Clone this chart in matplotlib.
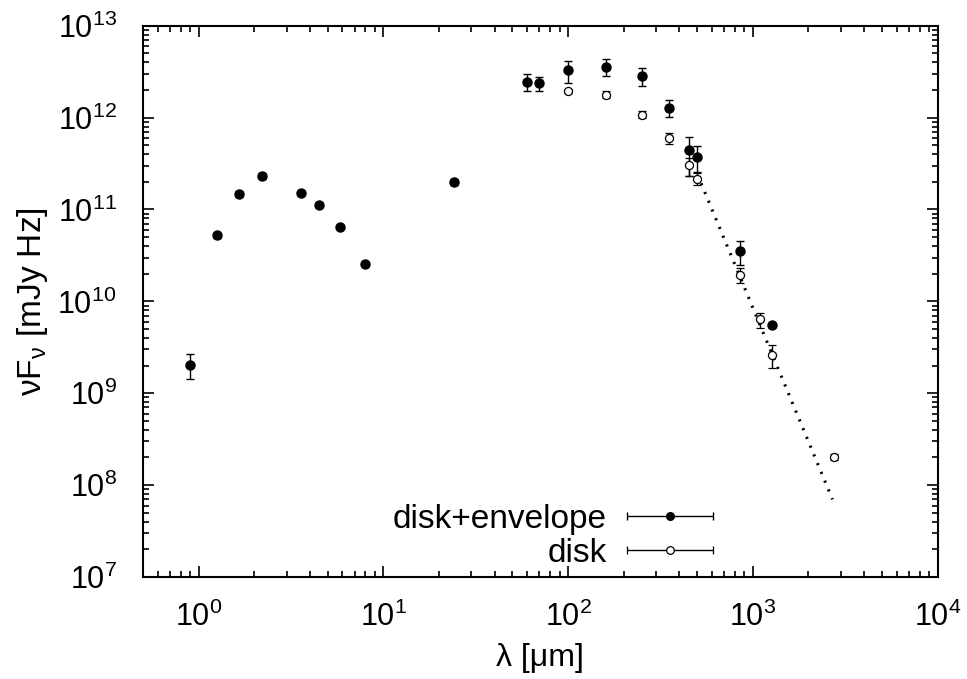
import numpy as np
import matplotlib
matplotlib.use("Agg")
import matplotlib.pyplot as plt
from matplotlib.ticker import LogLocator, LogFormatterSciNotation, NullFormatter
from matplotlib.legend_handler import HandlerErrorbar

plt.rcParams['font.family'] = ['Liberation Sans', 'DejaVu Sans']
plt.rcParams['mathtext.default'] = 'regular'

# disk+envelope (filled)
env_lam = [0.9, 1.25, 1.65, 2.2, 3.6, 4.5, 5.8, 8.0, 24, 60, 70, 100, 160, 250, 350, 450, 500, 850, 1270]
env_flux = [2.05e9, 5.24e10, 1.49e11, 2.32e11, 1.52e11, 1.13e11, 6.45e10, 2.53e10, 2.0e11,
            2.44e12, 2.4e12, 3.3e12, 3.52e12, 2.84e12, 1.28e12, 4.43e11, 3.72e11, 3.5e10, 5.57e9]
env_lo = [1.42e9, 4.9e10, 1.39e11, 2.17e11, 1.45e11, 1.08e11, 6.15e10, 2.42e10, 1.86e11,
          1.95e12, 1.95e12, 2.4e12, 2.81e12, 2.22e12, 1.02e12, 2.33e11, 2.57e11, 2.49e10, 5.3e9]
env_hi = [2.70e9, 5.6e10, 1.59e11, 2.48e11, 1.6e11, 1.18e11, 6.75e10, 2.65e10, 2.15e11,
          2.95e12, 2.79e12, 4.16e12, 4.31e12, 3.44e12, 1.54e12, 6.11e11, 4.9e11, 4.57e10, 5.85e9]

# disk (open)
disk_lam = [100, 160, 250, 350, 450, 500, 850, 1100, 1270, 2740]
disk_flux = [1.96e12, 1.77e12, 1.08e12, 6.04e11, 3.03e11, 2.15e11, 1.94e10, 6.38e9, 2.61e9, 2.04e8]
disk_lo = [1.86e12, 1.62e12, 9.9e11, 5.13e11, 2.33e11, 1.86e11, 1.6e10, 5.18e9, 1.9e9, 1.9e8]
disk_hi = [2.07e12, 1.93e12, 1.18e12, 6.86e11, 3.66e11, 2.48e11, 2.29e10, 7.41e9, 3.33e9, 2.2e8]

# power-law fit (dotted)
fit_lam = [525, 2700]
fit_flux = [1.93e11, 7.0e7]

fig = plt.figure(figsize=(9.67, 6.79), dpi=100)
ax = fig.add_axes([0.1479, 0.1502, 0.8216, 0.8119])

env_flux = np.array(env_flux)
disk_flux = np.array(disk_flux)
env_err = [env_flux - np.array(env_lo), np.array(env_hi) - env_flux]
disk_err = [disk_flux - np.array(disk_lo), np.array(disk_hi) - disk_flux]

ax.plot(fit_lam, fit_flux, color='black', lw=2.2, linestyle=(0, (0.7, 2.4)), dash_capstyle='butt')
ax.errorbar(env_lam, env_flux, yerr=env_err, fmt='o', color='black', ms=6.5,
            elinewidth=1.0, capsize=3, capthick=1.0)
ax.errorbar(disk_lam, disk_flux, yerr=disk_err, fmt='o', color='black', mfc='white', ms=5.8,
            mew=0.9, elinewidth=1.0, capsize=3, capthick=1.0)

# legend proxies with horizontal error bars
h1 = ax.errorbar([np.nan], [np.nan], xerr=[1], fmt='o', color='black', ms=5.5,
                 elinewidth=1.0, capsize=3.2, capthick=1.0, label='disk+envelope')
h2 = ax.errorbar([np.nan], [np.nan], xerr=[1], fmt='o', color='black', mfc='white', ms=5.5,
                 mew=0.9, elinewidth=1.0, capsize=3.2, capthick=1.0, label='disk')
ax.legend(handles=[h1, h2], loc='lower right', bbox_to_anchor=(0.747, -0.028),
          frameon=False, markerfirst=False, fontsize=24, handlelength=2.6,
          handletextpad=0.6, labelspacing=0.1, borderpad=0.2,
          handler_map={h1: HandlerErrorbar(xerr_size=1.3), h2: HandlerErrorbar(xerr_size=1.3)})

ax.set_xscale('log')
ax.set_yscale('log')
ax.set_xlim(0.5, 1e4)
ax.set_ylim(1e7, 1e13)

for axis in (ax.xaxis, ax.yaxis):
    axis.set_major_locator(LogLocator(base=10, numticks=20))
    axis.set_minor_locator(LogLocator(base=10, subs=range(2, 10), numticks=100))
    axis.set_major_formatter(LogFormatterSciNotation())
    axis.set_minor_formatter(NullFormatter())

ax.tick_params(which='both', direction='in', top=True, right=True, labelsize=22, width=1.2)
ax.tick_params(axis='x', which='major', length=8, pad=18)
ax.tick_params(axis='y', which='major', length=8, pad=19)
ax.tick_params(which='minor', length=4)
for s in ax.spines.values():
    s.set_linewidth(1.5)

ax.set_xlabel('λ [μm]', fontsize=23, labelpad=7)
ax.set_ylabel('νF$_{ν}$ [mJy Hz]', fontsize=24, labelpad=5)

fig.savefig('out.png', dpi=100)
